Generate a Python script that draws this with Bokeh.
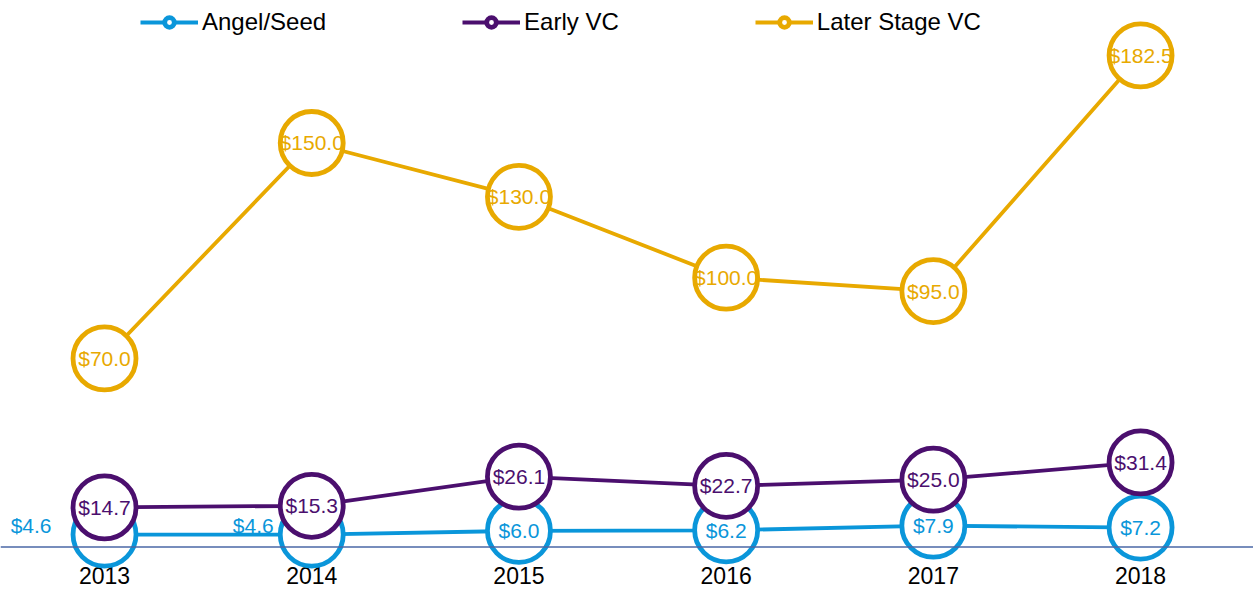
from bokeh.plotting import figure
from bokeh.models import ColumnDataSource, Legend, LegendItem, Range1d, Span
from bokeh.core.properties import value
from bokeh.embed import file_html
from bokeh.resources import INLINE

# ---- data ----
years = [2013, 2014, 2015, 2016, 2017, 2018]
year_labels = ["2013", "2014", "2015", "2016", "2017", "2018"]
angel_seed = [4.6, 4.6, 6.0, 6.2, 7.9, 7.2]
early_vc = [14.7, 15.3, 26.1, 22.7, 25.0, 31.4]
later_vc = [70.0, 150.0, 130.0, 100.0, 95.0, 182.5]
series_names = ["Angel/Seed", "Early VC", "Later Stage VC"]

# ---- style ----
colors = ["#0A96DA", "#4B0F6E", "#E8A900"]
FONT = "Liberation Sans"
# labels placed left of the marker (index within Angel/Seed -> x offset in px)
angel_left_labels = {0: -53, 1: -38}

p = figure(width=1253, height=589, output_backend="svg", toolbar_location=None,
           x_range=Range1d(2012.498, 2018.545), y_range=Range1d(-15.78, 202.9),
           x_axis_type=None, y_axis_type=None,
           min_border_left=0, min_border_right=0, min_border_top=0, min_border_bottom=0)
p.outline_line_color = None
p.background_fill_color = "white"
p.border_fill_color = "white"

# baseline (category axis line) at zero
p.add_layout(Span(location=0, dimension="width", line_color="#4A67A6", line_width=1.5))

# category labels under the baseline
p.text("x", "y", text="t", source=ColumnDataSource(dict(x=years, y=[0] * len(years), t=year_labels)),
       y_offset=29, text_align="center", text_baseline="middle", text_color="black",
       text_font=value(FONT), text_font_size="23px")

items = []
all_series = [angel_seed, early_vc, later_vc]
for name, vals, col in zip(series_names, all_series, colors):
    src = ColumnDataSource(dict(x=years, y=vals))
    ln = p.line("x", "y", source=src, line_color=col, line_width=3.8)
    sc = p.scatter("x", "y", source=src, marker="circle", size=63, fill_color="white",
                   line_color=col, line_width=4.8)
    items.append(LegendItem(label=name, renderers=[ln, sc]))

for si, (vals, col) in enumerate(zip(all_series, colors)):
    cx, cy, ct = [], [], []
    lx, ly, lt, lo = [], [], [], []
    for i, (yr, v) in enumerate(zip(years, vals)):
        t = "$%.1f" % v
        if si == 0 and i in angel_left_labels:
            lx.append(yr); ly.append(v); lt.append(t); lo.append(angel_left_labels[i])
        else:
            cx.append(yr); cy.append(v); ct.append(t)
    p.text("x", "y", text="t", source=ColumnDataSource(dict(x=cx, y=cy, t=ct)),
           text_align="center", text_baseline="middle", text_color=col,
           text_font=value(FONT), text_font_size="21px")
    if lx:
        p.text("x", "y", text="t", source=ColumnDataSource(dict(x=lx, y=ly, t=lt, o=lo)),
               x_offset="o", y_offset=-9,
               text_align="right", text_baseline="middle", text_color=col,
               text_font=value(FONT), text_font_size="21px")

legend = Legend(items=items, orientation="horizontal", location=(140, 553),
                spacing=136, padding=0, margin=0, glyph_width=58, glyph_height=24,
                label_standoff=4, label_text_font=FONT, label_text_font_size="24px",
                label_text_color="black", border_line_color=None,
                background_fill_alpha=0)
p.add_layout(legend)

open("out.html", "w").write(file_html(p, INLINE))
